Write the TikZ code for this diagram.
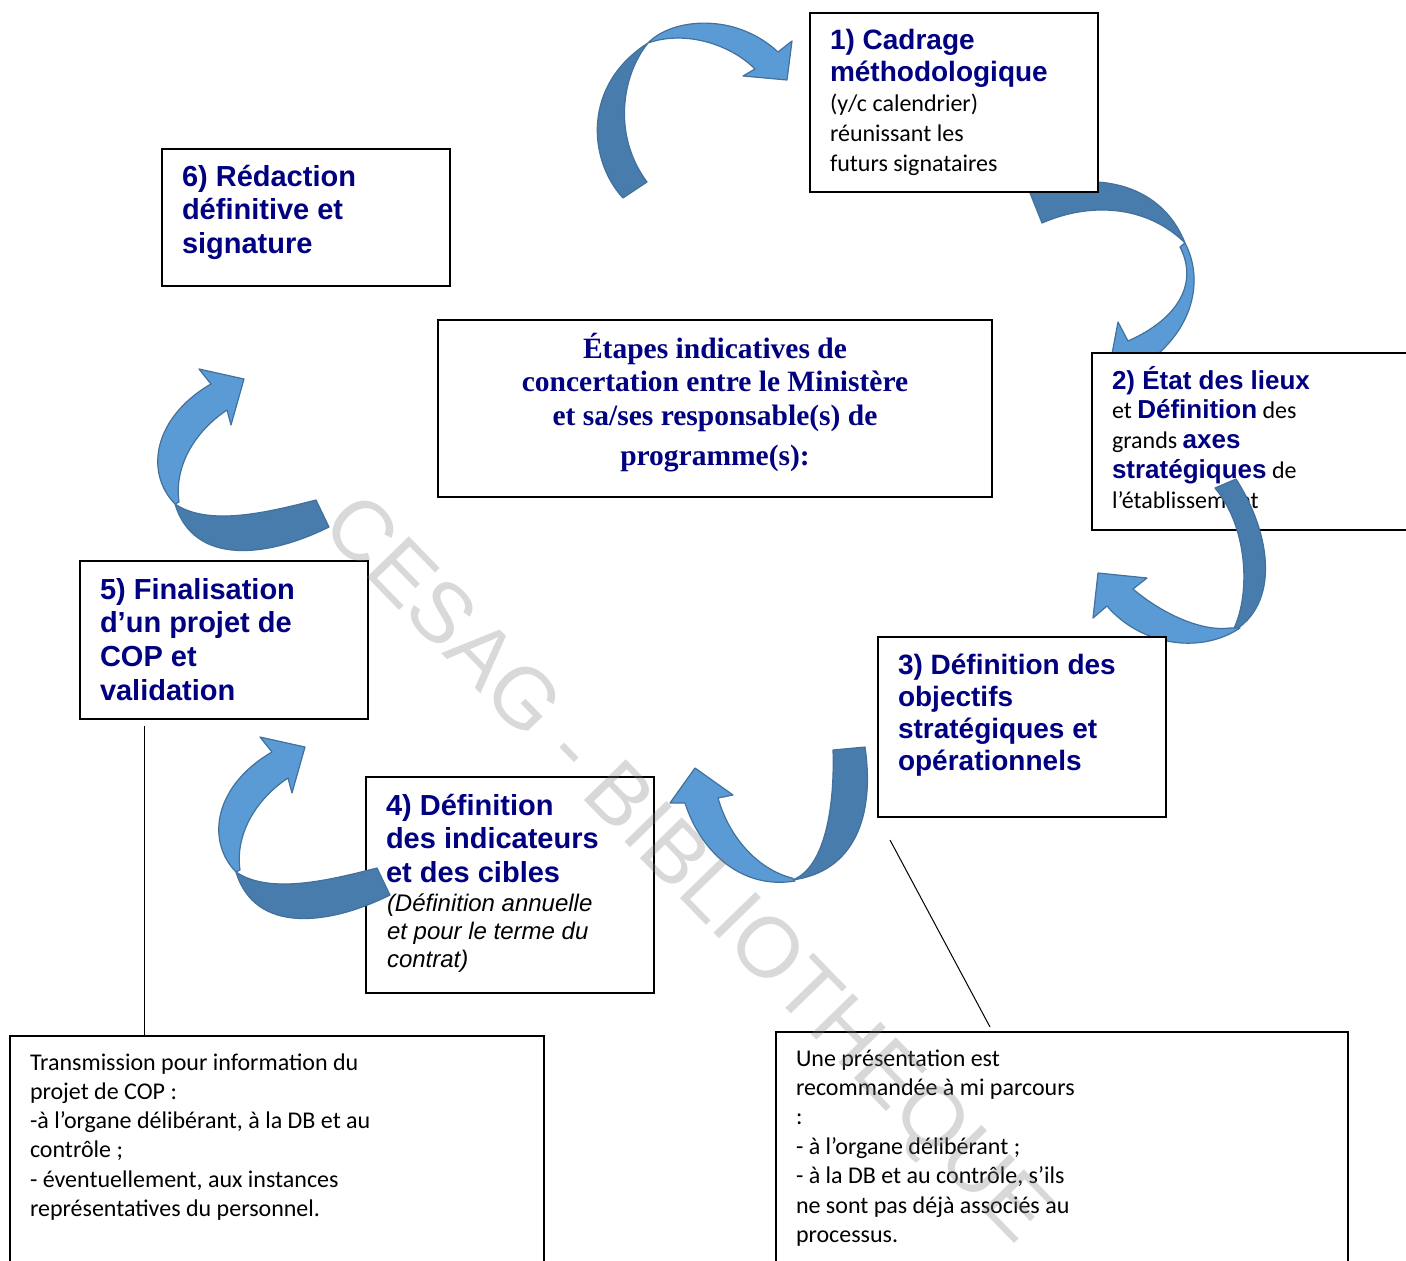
\documentclass[tikz,border=0pt]{standalone}
\usepackage{fontspec}
\newfontfamily\fArial{Liberation Sans}
\newfontfamily\fCal{Carlito}
\newfontfamily\fTimes{Liberation Serif}
\definecolor{navy}{HTML}{000080}
\definecolor{lblue}{HTML}{5B9BD5}
\definecolor{dblue}{HTML}{487CAC}
\definecolor{eblue}{HTML}{41719C}
\newcommand\hdfont[2]{\fArial\bfseries\fontsize{#1}{#2}\selectfont}
\newcommand\calfont[2]{\fCal\fontsize{#1}{#2}\selectfont}
\newcommand\hB[1]{{\color{navy}\fArial\bfseries\fontsize{26}{29.5}\selectfont #1}}
\begin{document}
\begin{tikzpicture}[x=1pt,y=-1pt,
  box/.style={draw=black, line width=1.2pt, fill=white, rectangle, anchor=north west, inner sep=0pt, outer sep=0pt},
  txt/.style={anchor=north west, inner sep=0pt, outer sep=0pt, align=left},
  lt/.style={fill=lblue, draw=eblue, line width=1.2pt, line join=round},
  dk/.style={fill=dblue, draw=eblue, line width=1.2pt, line join=round},
  conn/.style={draw=black, line width=1pt}]
\useasboundingbox (0,0) rectangle (1406,1261);

% ---- arrow A (to box 1)
\path[dk] (623,198) .. controls (588,160) and (582,85) .. (648,43)
  .. controls (622,75) and (612,135) .. (647,182) -- cycle;
\path[lt] (648,43) .. controls (672,18) and (735,12) .. (778,52) -- (792,41) -- (787,80)
  -- (743,76) -- (755,69) .. controls (730,44) and (685,30) .. (648,43) -- cycle;

% ---- arrow B (box 1 -> box 2)
\path[dk] (1030,193) .. controls (1090,170) and (1160,180) .. (1185,243)
  .. controls (1150,208) and (1095,200) .. (1042,223) -- cycle;
\path[lt] (1185,243) .. controls (1202,275) and (1198,325) .. (1148,362) -- (1108,375)
  -- (1118,322) -- (1128,341) .. controls (1180,318) and (1198,282) .. (1180,247) -- cycle;

% ---- boxes 1, 6, centre, 2
\node[box, minimum width=288, minimum height=179] (b1) at (810,13) {};
\node[txt, text=navy, font=\hdfont{28}{32}] (b1h) at (830,21) {\rule{0pt}{28pt}1) Cadrage\\méthodologique};
\node[txt, font=\calfont{24}{30}] (b1t) at (830,87) {\rule{0pt}{24pt}(y/c calendrier)\\réunissant les\\futurs signataires};

\node[box, minimum width=288, minimum height=137] (b6) at (162,149) {};
\node[txt, text=navy, font=\hdfont{29}{33.5}] (b6h) at (182,157) {\rule{0pt}{29pt}6) Rédaction\\définitive et\\signature};

\node[box, minimum width=554, minimum height=177] (bc) at (438,320) {};
\node[anchor=north, inner sep=0pt, outer sep=0pt, align=center, text=navy, font=\fTimes\bfseries\fontsize{29.5}{33.5}\selectfont] (bct) at (715,328.5)
  {\rule{0pt}{29.5pt}Étapes indicatives de\\concertation entre le Ministère\\et sa/ses responsable(s) de\\[7pt]programme(s):};

\node[box, minimum width=330, minimum height=177] (b2) at (1092,353) {};
\node[txt, font=\calfont{24}{29.8}] (b2t) at (1112,363)
  {\rule{0pt}{26pt}\hB{2) État des lieux}\\et \hB{Définition} des\\grands \hB{axes}\\\hB{stratégiques} de\\l’établissement};

% ---- arrow C (box 2 -> box 3)
\path[dk] (1236,479) .. controls (1272,535) and (1280,605) .. (1232,632)
  .. controls (1250,600) and (1250,530) .. (1215,488) -- cycle;
\path[lt] (1240,628) .. controls (1200,655) and (1140,645) .. (1107,606) -- (1093,618) -- (1098,573)
  -- (1147,578) -- (1133,589) .. controls (1160,612) and (1200,632) .. (1230,628) -- cycle;

% ---- boxes 3, 4, 5
\node[box, minimum width=288, minimum height=180] (b3) at (878,637) {};
\node[txt, text=navy, font=\hdfont{28}{32}] (b3h) at (898,646) {\rule{0pt}{28pt}3) Définition des\\objectifs\\stratégiques et\\opérationnels};

\node[box, minimum width=288, minimum height=216] (b4) at (366,777) {};
\node[txt, text=navy, font=\hdfont{29}{33.5}] (b4h) at (386,786) {\rule{0pt}{29pt}4) Définition\\des indicateurs\\et des cibles};
\node[txt, font=\fArial\itshape\fontsize{24}{28}\selectfont] (b4t) at (387,887) {\rule{0pt}{24pt}(Définition annuelle\\et pour le terme du\\contrat)};

\node[box, minimum width=288, minimum height=158] (b5) at (80,561) {};
\node[txt, text=navy, font=\hdfont{29}{33.7}] (b5h) at (100,570) {\rule{0pt}{29pt}5) Finalisation\\d’un projet de\\COP et\\validation};

% ---- arrow D (box 3 -> box 4)
\path[dk] (865,747) .. controls (875,815) and (855,872) .. (792,880)
  .. controls (822,870) and (835,815) .. (833,750) -- cycle;
\path[lt] (795,881) .. controls (740,890) and (700,850) .. (685,803) -- (670,803) -- (695,768)
  -- (733,795) -- (718,798) .. controls (730,840) and (760,870) .. (792,878) -- cycle;

% ---- arrow E (box 4 -> box 5)
\path[dk] (377,868) .. controls (330,880) and (270,895) .. (236,872)
  .. controls (255,935) and (330,925) .. (390,895) -- cycle;
\path[lt] (236,872) .. controls (205,840) and (215,785) .. (272,752) -- (260,737) -- (305,747)
  -- (292,793) -- (288,778) .. controls (255,800) and (235,835) .. (240,870) -- cycle;

% ---- arrow F (box 5 -> box 6)
\begin{scope}[shift={(-61,-368)}]
\path[dk] (377,868) .. controls (330,880) and (270,895) .. (236,872)
  .. controls (255,935) and (330,925) .. (390,895) -- cycle;
\path[lt] (236,872) .. controls (205,840) and (215,785) .. (272,752) -- (260,737) -- (305,747)
  -- (292,793) -- (288,778) .. controls (255,800) and (235,835) .. (240,870) -- cycle;
\end{scope}

% ---- bottom boxes
\node[box, minimum width=534, minimum height=240] (bl) at (10,1036) {};
\node[txt, font=\calfont{24}{29.3}] (blt) at (30,1046)
  {\rule{0pt}{24pt}Transmission pour information du\\projet de COP :\\-à l’organe délibérant, à la DB et au\\contrôle ;\\- éventuellement, aux instances\\représentatives du personnel.};

\node[box, minimum width=572, minimum height=244] (br) at (776,1032) {};
\node[txt, font=\calfont{24}{29.4}] (brt) at (796,1042)
  {\rule{0pt}{24pt}Une présentation est\\recommandée à mi parcours\\:\\- à l’organe délibérant ;\\- à la DB et au contrôle, s’ils\\ne sont pas déjà associés au\\processus.};

% ---- connectors
\coordinate (c1) at (144,726);
\draw[conn] (c1) -- (c1 |- bl.north);
\coordinate (c2) at (890,840);
\coordinate (c3) at (990,1027);
\draw[conn] (c2) -- (c3);

% ---- watermark
\node[rotate=-45.8, text=black!50, text opacity=0.3, inner sep=0pt,
  font=\fArial\fontsize{85}{85}\selectfont] (wm) at (684,872) {CESAG - BIBLIOTHEQUE};
\end{tikzpicture}
\end{document}
